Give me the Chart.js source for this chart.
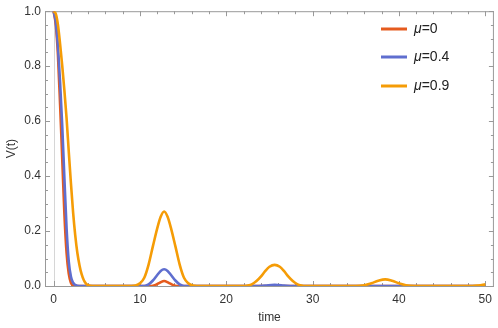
<!DOCTYPE html>
<html>
<head>
<meta charset="utf-8">
<script src="https://cdn.jsdelivr.net/npm/chart.js@4"></script>
<style>
    html, body { margin: 0; padding: 0; background: #ffffff; }
    #wrap { width: 498px; height: 328px; position: relative; }
</style>
</head>
<body>
<div id="wrap"><canvas id="chart"></canvas></div>
<script>
const seriesLabels = ["μ=0", "μ=0.4", "μ=0.9"];
const seriesColors = ["#e55b1e", "#5f6ecf", "#f59c06"];

// μ = 0
const timeMu0 = [0, 0.25, 0.5, 0.75, 1, 1.25, 1.5, 1.75, 2, 2.25, 2.5,
    11.3, 11.8, 12.3, 12.8, 13.3, 13.8, 14.3, 50];
const valueMu0 = [1, 0.95, 0.84, 0.66, 0.46, 0.26, 0.12, 0.045, 0.012, 0.002, 0,
    0, 0.004, 0.012, 0.018, 0.012, 0.004, 0, 0];

// μ = 0.4
const timeMu04 = [0, 0.25, 0.5, 0.75, 1, 1.25, 1.5, 1.75, 2, 2.25, 2.5, 3,
    10.5, 11, 11.5, 12, 12.4, 12.8, 13.2, 13.6, 14.1, 14.6, 15.1,
    23.5, 24.5, 25.6, 26.7, 27.7, 50];
const valueMu04 = [1, 0.96, 0.87, 0.74, 0.58, 0.39, 0.21, 0.09, 0.035, 0.012, 0.004, 0,
    0, 0.006, 0.02, 0.04, 0.055, 0.061, 0.055, 0.04, 0.02, 0.006, 0,
    0, 0.002, 0.004, 0.002, 0, 0];

// μ = 0.9
const timeMu09 = [0, 0.25, 0.5, 0.75, 1, 1.25, 1.5, 1.75, 2, 2.25, 2.5, 2.75, 3, 3.25, 3.5, 3.75, 4, 4.5,
    9, 9.5, 10, 10.5, 11, 11.5, 12, 12.4, 12.8, 13.2, 13.6, 14.1, 14.6, 15.1, 15.6, 16.1, 16.6,
    22, 22.5, 23, 23.5, 24, 24.5, 25, 25.6, 26.2, 26.7, 27.2, 27.7, 28.2, 28.7, 29.2,
    35, 36, 36.8, 37.6, 38.4, 39.2, 40, 40.8, 41.8,
    48.5, 49.2, 50];
const valueMu09 = [1, 0.99, 0.95, 0.88, 0.8, 0.71, 0.61, 0.49, 0.375, 0.27, 0.185, 0.12, 0.075, 0.042, 0.021, 0.009, 0.003, 0,
    0, 0.002, 0.01, 0.03, 0.078, 0.145, 0.21, 0.252, 0.271, 0.252, 0.21, 0.145, 0.078, 0.03, 0.01, 0.002, 0,
    0, 0.002, 0.007, 0.018, 0.034, 0.054, 0.07, 0.077, 0.07, 0.054, 0.034, 0.018, 0.007, 0.002, 0,
    0, 0.003, 0.01, 0.019, 0.024, 0.019, 0.01, 0.003, 0,
    0, 0.002, 0.006];

const xMajorTicks = [0, 10, 20, 30, 40, 50];
const xMinorTicks = [2, 4, 6, 8, 12, 14, 16, 18, 22, 24, 26, 28, 32, 34, 36, 38, 42, 44, 46, 48];
const yMajorTicks = [0, 0.2, 0.4, 0.6, 0.8, 1.0];
const yMinorTicks = [0.05, 0.1, 0.15, 0.25, 0.3, 0.35, 0.45, 0.5, 0.55, 0.65, 0.7, 0.75, 0.85, 0.9, 0.95];

const FONT = "'Liberation Sans', Arial, sans-serif";
const FRAME = "#999999";

function toPoints(times, values) {
    return times.map((t, i) => ({ x: t, y: values[i] }));
}

const seriesData = [
    toPoints(timeMu0, valueMu0),
    toPoints(timeMu04, valueMu04),
    toPoints(timeMu09, valueMu09)
];

function strokeLine(ctx, x1, y1, x2, y2) {
    ctx.beginPath();
    ctx.moveTo(x1, y1);
    ctx.lineTo(x2, y2);
    ctx.stroke();
}

const framePlugin = {
    id: "frame",
    beforeDatasetsDraw(chart) {
        const { ctx, chartArea: a, scales: { x, y } } = chart;
        ctx.save();
        ctx.lineWidth = 1;

        // x = 0 axis
        ctx.strokeStyle = "#d6d6d6";
        const x0 = Math.round(x.getPixelForValue(0)) + 0.5;
        strokeLine(ctx, x0, a.top, x0, a.bottom);

        ctx.strokeStyle = FRAME;
        const tickX = (v, len) => {
            const px = Math.round(x.getPixelForValue(v)) + 0.5;
            strokeLine(ctx, px, a.bottom, px, a.bottom - len);
            strokeLine(ctx, px, a.top, px, a.top + len);
        };
        const tickY = (v, len) => {
            const py = Math.round(y.getPixelForValue(v)) + 0.5;
            strokeLine(ctx, a.left, py, a.left + len, py);
            strokeLine(ctx, a.right, py, a.right - len, py);
        };
        xMajorTicks.forEach((v) => tickX(v, 5));
        xMinorTicks.forEach((v) => tickX(v, 3));
        yMajorTicks.forEach((v) => tickY(v, 5));
        yMinorTicks.forEach((v) => tickY(v, 3));

        ctx.strokeRect(a.left + 0.5, a.top + 0.5, a.right - a.left - 1, a.bottom - a.top);
        ctx.restore();
    }
};

const legendPlugin = {
    id: "insideLegend",
    afterDraw(chart) {
        const { ctx } = chart;
        const rows = [29, 57, 86];
        ctx.save();
        ctx.textBaseline = "middle";
        seriesLabels.forEach((label, i) => {
            const yy = rows[i];
            ctx.strokeStyle = seriesColors[i];
            ctx.lineWidth = 3;
            strokeLine(ctx, 381, yy, 407, yy);

            ctx.fillStyle = "#222";
            ctx.font = "italic 14px " + FONT;
            ctx.fillText("μ", 414, yy);
            const w = ctx.measureText("μ").width;
            ctx.font = "14px " + FONT;
            ctx.fillText(label.slice(1), 414 + w, yy);
        });
        ctx.restore();
    }
};

new Chart(document.getElementById("chart"), {
    type: "line",
    data: {
        datasets: seriesLabels.map((label, i) => ({
            label: label,
            data: seriesData[i],
            borderColor: seriesColors[i],
            borderWidth: 2.6,
            pointRadius: 0,
            fill: false,
            cubicInterpolationMode: "monotone",
            order: 3 - i
        }))
    },
    options: {
        responsive: true,
        maintainAspectRatio: false,
        animation: false,
        layout: { padding: { top: 6, right: 2, left: 0, bottom: 0 } },
        plugins: {
            legend: { display: false },
            tooltip: { enabled: false }
        },
        scales: {
            x: {
                type: "linear",
                min: -1,
                max: 51,
                afterBuildTicks: (s) => { s.ticks = xMajorTicks.map((v) => ({ value: v })); },
                afterFit: (s) => { s.height = 42; },
                grid: { display: false, drawTicks: false },
                border: { display: false },
                ticks: {
                    color: "#333",
                    font: { family: FONT, size: 12 },
                    padding: 6,
                    maxRotation: 0,
                    callback: (v) => String(v)
                },
                title: {
                    display: true,
                    text: "time",
                    color: "#333",
                    font: { family: FONT, size: 12 },
                    padding: { top: 0, bottom: 3 }
                }
            },
            y: {
                type: "linear",
                min: 0,
                max: 1,
                afterBuildTicks: (s) => { s.ticks = yMajorTicks.map((v) => ({ value: v })); },
                afterFit: (s) => { s.width = 45; },
                grid: { display: false, drawTicks: false },
                border: { display: false },
                ticks: {
                    color: "#333",
                    font: { family: FONT, size: 12 },
                    padding: 4,
                    callback: (v) => v.toFixed(1)
                },
                title: {
                    display: true,
                    text: "V(t)",
                    color: "#333",
                    font: { family: FONT, size: 12 },
                    padding: { top: 4, bottom: 0 }
                }
            }
        }
    },
    plugins: [framePlugin, legendPlugin]
});
</script>
</body>
</html>
